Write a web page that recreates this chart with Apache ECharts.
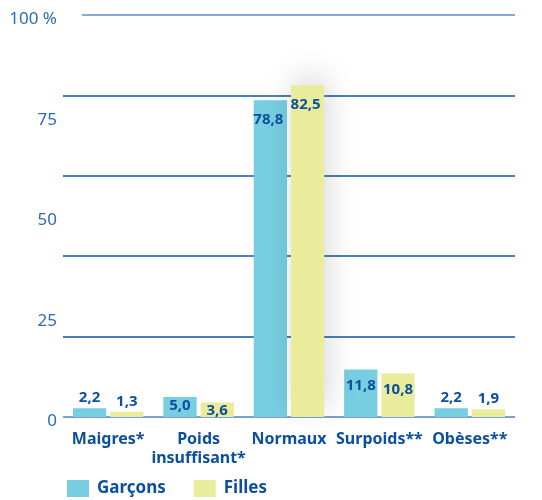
<!DOCTYPE html>
<html><head><meta charset="utf-8">
<script src="https://cdn.jsdelivr.net/npm/echarts@6/dist/echarts.min.js"></script>
<style>html,body{margin:0;padding:0;background:#fff}#c{width:542px;height:500px}</style>
</head><body><div id="c"></div>
<script>
const categories = ['Maigres*', 'Poids\ninsuffisant*', 'Normaux', 'Surpoids**', 'Obèses**'];
const garcons = [2.2, 5.0, 78.8, 11.8, 2.2];
const filles = [1.3, 3.6, 82.5, 10.8, 1.9];
const seriesNames = ['Garçons', 'Filles'];
const yTicks = [0, 25, 50, 75, 100];

const FONT = '"Noto Sans", sans-serif';
const DARK = '#0b4f9e';
const fmt = v => v.toFixed(1).replace('.', ',');

function mkData(arr, isNormauxShadow) {
  return arr.map((v, i) => {
    const d = { value: v };
    if (v >= 50) d.label = { position: 'insideTop', distance: 12, offset: [-2, 0] };
    else if (v >= 10) d.label = { position: 'insideTop', distance: 9 };
    else if (v >= 3) d.label = { position: 'insideTop', distance: 1 };
    else d.label = { position: 'top', distance: 3 };
    if (isNormauxShadow && i === 2) {
      d.itemStyle = { shadowBlur: 30, shadowColor: 'rgba(0,0,0,0.16)', shadowOffsetY: -8, shadowOffsetX: 3 };
    }
    return d;
  });
}

const chart = echarts.init(document.getElementById('c'), null, { renderer: 'canvas' });
const labelCfg = { show: true, formatter: p => fmt(p.value), color: DARK, fontWeight: 'bold', fontSize: 15, fontFamily: FONT };

chart.setOption({
  animation: false,
  grid: { left: 63, right: 27, top: 15, bottom: 83 },
  legend: {
    left: 62, top: 475, itemWidth: 22, itemHeight: 17, itemGap: 28, icon: 'rect',
    textStyle: { color: DARK, fontWeight: 'bold', fontSize: 17, fontFamily: FONT, padding: [0, 0, 0, 3] },
    data: seriesNames
  },
  xAxis: {
    type: 'category', data: categories,
    axisLine: { show: false }, axisTick: { show: false },
    axisLabel: { color: DARK, fontWeight: 'bold', fontSize: 16, fontFamily: FONT, lineHeight: 19, margin: 13, interval: 0 }
  },
  yAxis: [
    {
      type: 'value', min: yTicks[0], max: yTicks[yTicks.length - 1], interval: 25,
      splitLine: { show: false }, axisLine: { show: false }, axisTick: { show: false },
      axisLabel: { color: '#2b6cb3', fontSize: 17, fontFamily: FONT, margin: 6, verticalAlign: 'top', lineHeight: 9,
        formatter: v => v === 100 ? '100 %' : String(v) }
    },
    {
      type: 'value', min: 0, max: 100, interval: 20, position: 'left',
      axisLine: { show: false }, axisTick: { show: false }, axisLabel: { show: false },
      splitLine: { show: true, lineStyle: { width: 1.5, color: ['#4a85c4', '#0a56a8', '#0a56a8', '#0a56a8', '#0a56a8', '#5b8fc7'] } }
    }
  ],
  series: [
    { name: seriesNames[0], type: 'bar', yAxisIndex: 0, data: mkData(garcons, false), barGap: '12%', barCategoryGap: '22%',
      itemStyle: { color: '#76cee0' }, label: labelCfg },
    { name: seriesNames[1], type: 'bar', yAxisIndex: 0, data: mkData(filles, true),
      itemStyle: { color: '#e9ec9a' }, label: labelCfg }
  ]
});

const y100 = chart.convertToPixel({ yAxisIndex: 0 }, 100);
chart.setOption({
  graphic: [{ type: 'rect', shape: { x: 60, y: y100 - 2, width: 22, height: 4 }, style: { fill: '#fff' }, z: 100 }]
});
</script></body></html>
